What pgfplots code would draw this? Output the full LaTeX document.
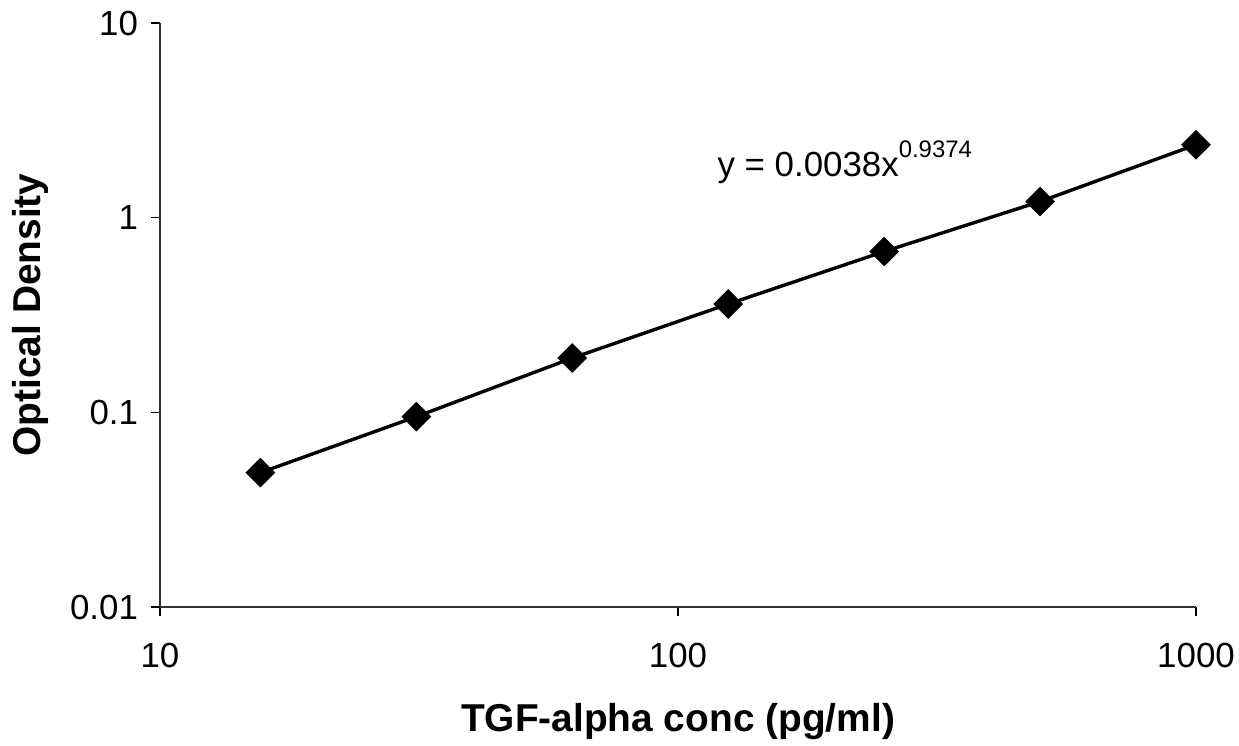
\documentclass[border=0pt]{standalone}
\usepackage{pgfplots}
\pgfplotsset{compat=1.18}
\usepackage{fontspec}
\setmainfont{Liberation Sans}

\begin{document}
\begin{tikzpicture}
\useasboundingbox (0,0) rectangle (619.5bp,373bp);
\begin{axis}[
  at={(80bp,69.5bp)}, anchor=south west,
  width=518bp, height=292bp, scale only axis,
  xmode=log, ymode=log,
  xmin=10, xmax=1000, ymin=0.01, ymax=10,
  axis x line*=bottom, axis y line*=left,
  axis line style={-, line width=0.7bp, black!80},
  xtick={10,100,1000}, xticklabels={10,100,1000},
  ytick={0.01,0.1,1,10}, yticklabels={0.01,0.1,1,10},
  xminorticks=false, yminorticks=false,
  tick align=outside, major tick length=4.5bp,
  tick style={line width=0.7bp, black},
  /pgf/number format/assume math mode=true,
  tick label style={font=\fontsize{17.5}{20}\selectfont},
  xticklabel style={anchor=center, yshift=-20bp},
  yticklabel style={anchor=east, xshift=-3bp},
  xlabel={TGF-alpha conc (pg/ml)},
  ylabel={Optical Density},
  every axis x label/.style={at={(axis description cs:0.5,0)}, anchor=center,
    yshift=-57.5bp, font=\fontsize{19.5}{22}\selectfont\bfseries},
  every axis y label/.style={at={(axis description cs:0,0.5)}, xshift=-65bp,
    anchor=center, rotate=90, font=\fontsize{19.5}{22}\selectfont\bfseries},
  clip=false,
]
\addplot[black, line width=1.7bp, mark=square*, mark size=4.4bp,
  mark options={rotate=45, solid, fill=black}]
  coordinates {
    (15.625,0.049) (31.25,0.095) (62.5,0.19) (125,0.36)
    (250,0.67) (500,1.21) (1000,2.37)
  };
\node[anchor=west, inner sep=0pt, font=\fontsize{17.5}{20}\selectfont]
  at (axis cs:119,1.92) {y = 0.0038x\raisebox{0.55em}{\fontsize{12}{14}\selectfont 0.9374}};
\end{axis}
\end{tikzpicture}
\end{document}
